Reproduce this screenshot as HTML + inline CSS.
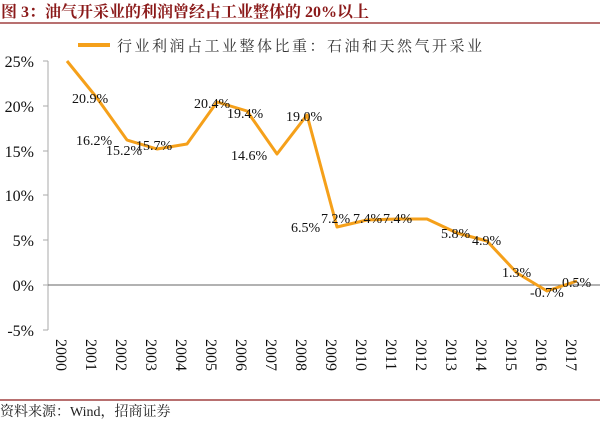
<!DOCTYPE html>
<html><head><meta charset="utf-8"><style>
body{margin:0;background:#fff;width:600px;height:420px;overflow:hidden}
</style></head><body>
<svg width="600" height="420" xmlns="http://www.w3.org/2000/svg" font-family="'Liberation Serif','Noto Serif CJK SC',serif">
<text x="1" y="17" font-size="16" font-weight="bold" fill="#8b1a1a">图 3：油气开采业的利润曾经占工业整体的 20%以上</text>
<line x1="0" y1="23" x2="600" y2="23" stroke="#a04040" stroke-width="1.5"/>
<line x1="0" y1="400" x2="600" y2="400" stroke="#a04040" stroke-width="1.5"/>
<text x="0" y="416" font-size="14" fill="#222">资料来源：Wind，招商证券</text>
<line x1="78" y1="45" x2="110" y2="45" stroke="#f5a01a" stroke-width="4"/>
<text x="117" y="51" font-size="15" fill="#333" letter-spacing="2.5">行业利润占工业整体比重：石油和天然气开采业</text>
<g stroke="#aaa" stroke-width="1">
<line x1="48" y1="61" x2="48" y2="330"/>
<line x1="43" y1="61" x2="48" y2="61"/><line x1="43" y1="106" x2="48" y2="106"/><line x1="43" y1="151" x2="48" y2="151"/><line x1="43" y1="195" x2="48" y2="195"/><line x1="43" y1="240" x2="48" y2="240"/><line x1="43" y1="285" x2="48" y2="285"/><line x1="43" y1="330" x2="48" y2="330"/>
</g>
<line x1="48" y1="285" x2="600" y2="285" stroke="#666" stroke-width="1"/>
<g font-size="16" fill="#111" text-anchor="end">
<text x="34" y="67">25%</text><text x="34" y="112">20%</text><text x="34" y="157">15%</text><text x="34" y="201">10%</text><text x="34" y="246">5%</text><text x="34" y="291">0%</text><text x="34" y="336">-5%</text>
</g>
<g font-size="16" fill="#111">
<text transform="translate(56,339) rotate(90)">2000</text>
<text transform="translate(86,339) rotate(90)">2001</text>
<text transform="translate(116,339) rotate(90)">2002</text>
<text transform="translate(146,339) rotate(90)">2003</text>
<text transform="translate(176,339) rotate(90)">2004</text>
<text transform="translate(206,339) rotate(90)">2005</text>
<text transform="translate(236,339) rotate(90)">2006</text>
<text transform="translate(266,339) rotate(90)">2007</text>
<text transform="translate(296,339) rotate(90)">2008</text>
<text transform="translate(326,339) rotate(90)">2009</text>
<text transform="translate(356,339) rotate(90)">2010</text>
<text transform="translate(386,339) rotate(90)">2011</text>
<text transform="translate(416,339) rotate(90)">2012</text>
<text transform="translate(446,339) rotate(90)">2013</text>
<text transform="translate(476,339) rotate(90)">2014</text>
<text transform="translate(506,339) rotate(90)">2015</text>
<text transform="translate(536,339) rotate(90)">2016</text>
<text transform="translate(566,339) rotate(90)">2017</text>
</g>
<polyline fill="none" stroke="#f5a01a" stroke-width="3" stroke-linejoin="round"
points="67,61 97,98 127,140 157,149 187,144 217,102 247,111 277,154 307,115 337,227 367,220 397,219 427,219 457,233 487,241 517,273 547,291 577,281"/>
<g font-size="14" fill="#111">
<text x="72" y="103">20.9%</text>
<text x="76" y="145">16.2%</text>
<text x="106" y="155">15.2%</text>
<text x="136" y="150">15.7%</text>
<text x="194" y="108">20.4%</text>
<text x="227" y="118">19.4%</text>
<text x="231" y="160">14.6%</text>
<text x="286" y="121">19.0%</text>
<text x="291" y="232">6.5%</text>
<text x="321" y="223">7.2%</text>
<text x="353" y="223">7.4%</text>
<text x="383" y="223">7.4%</text>
<text x="441" y="238">5.8%</text>
<text x="472" y="245">4.9%</text>
<text x="502" y="277">1.3%</text>
<text x="530" y="297">-0.7%</text>
<text x="562" y="287">0.5%</text>
</g>
</svg>
</body></html>
